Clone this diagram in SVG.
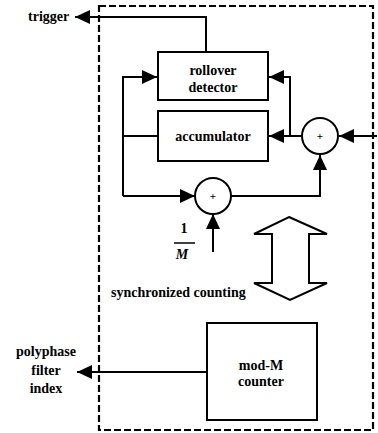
<svg xmlns="http://www.w3.org/2000/svg" width="378" height="433" viewBox="0 0 378 433">
<style>
text{font-family:'Liberation Serif','Times New Roman','DejaVu Serif',serif;font-size:14px;font-weight:bold;fill:#000}
.m{text-anchor:middle}
.box{fill:#fff;stroke:#000;stroke-width:2}
.ln{fill:none;stroke:#000;stroke-width:2}
</style>
<defs>
<marker id="ah" markerUnits="userSpaceOnUse" markerWidth="16" markerHeight="14" refX="15" refY="7" orient="auto">
<path d="M0,0 L15,7 L0,14 z" fill="#000"/>
</marker>
</defs>
<rect x="99" y="6" width="274" height="424" fill="none" stroke="#000" stroke-width="2.2" stroke-dasharray="7,3"/>
<g id="connectors">
<polyline class="ln" points="206,52 206,17 75,17" marker-end="url(#ah)"/>
<polyline class="ln" points="158,136 123,136"/>
<polyline class="ln" points="123,196 123,77 157,77" marker-end="url(#ah)"/>
<polyline class="ln" points="123,196 195,196" marker-end="url(#ah)"/>
<polyline class="ln" points="302,136 269,136" marker-end="url(#ah)"/>
<polyline class="ln" points="290,136 290,77 269,77" marker-end="url(#ah)"/>
<polyline class="ln" points="377,136 339,136" marker-end="url(#ah)"/>
<polyline class="ln" points="231,196 320,196 320,155" marker-end="url(#ah)"/>
<polyline class="ln" points="213,252 213,214" marker-end="url(#ah)"/>
<polyline class="ln" points="207,372 77,372" marker-end="url(#ah)"/>
</g>
<g id="rollover">
<rect class="box" x="158" y="52" width="110" height="48"/>
<text class="m" x="213" y="75" font-family="Liberation Serif, serif">rollover</text>
<text class="m" x="213" y="92" font-family="Liberation Serif, serif">detector</text>
</g>
<g id="accumulator">
<rect class="box" x="158" y="111" width="110" height="50"/>
<text class="m" x="213" y="141" font-family="Liberation Serif, serif">accumulator</text>
</g>
<g id="sum1">
<circle cx="320" cy="136" r="18" fill="#fff" stroke="#000" stroke-width="2"/>
<text class="m" x="320" y="140" style="font-size:11px">+</text>
</g>
<g id="sum2">
<circle cx="213" cy="196" r="18" fill="#fff" stroke="#000" stroke-width="2"/>
<text class="m" x="213" y="200" style="font-size:11px">+</text>
</g>
<g id="invM">
<text class="m" x="184" y="233">1</text>
<line x1="174" y1="243" x2="195" y2="243" stroke="#000" stroke-width="1.5"/>
<text class="m" x="182" y="259" style="font-style:italic">M</text>
</g>
<g id="sync">
<polygon class="ln" points="289,217 327,234 309,234 309,283 327,283 290,300 254,283 272,283 272,234 254,234" fill="#fff"/>
<text x="111" y="297">synchronized counting</text>
</g>
<g id="modM">
<rect class="box" x="207" y="323" width="110" height="97"/>
<text class="m" x="261" y="370">mod-M</text>
<text class="m" x="261" y="386">counter</text>
</g>
<g id="labels">
<text x="28" y="21">trigger</text>
<text class="m" x="46" y="356">polyphase</text>
<text class="m" x="46" y="375">filter</text>
<text class="m" x="46" y="393">index</text>
</g>
</svg>
